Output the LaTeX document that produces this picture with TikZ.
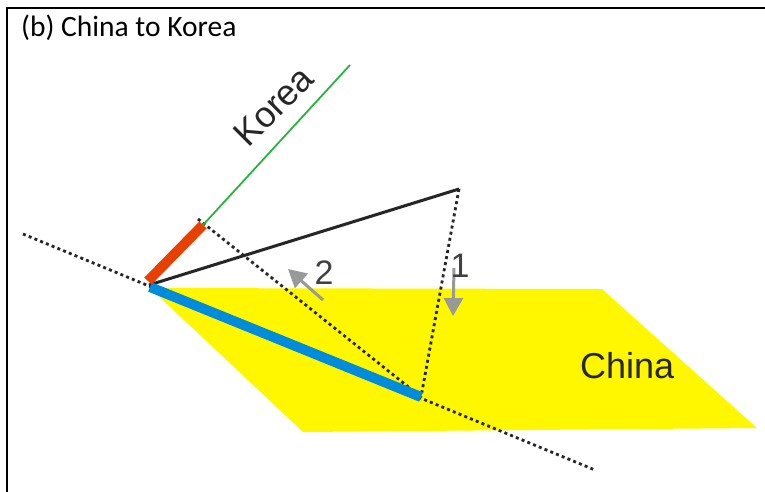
\documentclass[tikz,border=0pt]{standalone}
\usepackage{fontspec}
\setmainfont{Liberation Sans}
\newfontfamily\titlefont{Carlito}
\usetikzlibrary{arrows.meta}

\definecolor{chinayellow}{RGB}{255,247,0}
\definecolor{koreagreen}{RGB}{40,180,60}
\definecolor{shiftblue}{RGB}{0,140,220}
\definecolor{shiftred}{RGB}{232,64,0}

\begin{document}
\begin{tikzpicture}[
    x=1pt,y=-1pt,
    every node/.style={inner sep=0pt},
    dotline/.style={draw=black!85,line width=2.8pt,dash pattern=on 3pt off 3.2pt},
    turnarrow/.style={
        -{Triangle[length=18pt,width=19pt]},
        draw=black!40,line width=3pt
    },
    bigtext/.style={font=\fontsize{36}{40}\selectfont,text=black!85},
    numtext/.style={font=\fontsize{34}{36}\selectfont,text=black!75}
]
\useasboundingbox (0,0) rectangle (765,491);
\clip (0,0) rectangle (765,491);

% points
\coordinate (origin) at (149,285);
\coordinate (apex) at (459,189);
\coordinate (redbase) at (148,281);
\coordinate (redtip) at (203,225);
\coordinate (greentip) at (350,65);
\coordinate (bluebase) at (150,287);
\coordinate (bluetip) at (421,397);
\coordinate (dotstart) at (23,234);
\coordinate (dotend) at (595,470);
\coordinate (perpstart) at (198,219);
\coordinate (onestart) at (454,268);
\coordinate (oneend) at (453,316);
\coordinate (twostart) at (323,300);
\coordinate (twoend) at (288,269);

% China plane
\fill[chinayellow] (150,288) -- (602,289) -- (757,428) -- (303,432) -- cycle;

% dotted lines
\draw[dotline] (dotstart) -- (dotend);
\draw[dotline] (perpstart) -- (bluetip);
\draw[dotline] (apex) -- (bluetip);

% rays
\draw[draw=black!85,line width=3pt] (origin) -- (apex);
\draw[koreagreen,line width=1.8pt] (redtip) -- (greentip);
\draw[shiftblue,line width=10pt] (bluebase) -- (bluetip);
\draw[shiftred,line width=10pt] (redbase) -- (redtip);

% turning arrows
\draw[turnarrow] (onestart) -- (oneend);
\draw[turnarrow] (twostart) -- (twoend);

% texts
\node[numtext] (one) at (460,266) {1};
\node[numtext] (two) at (324,273) {2};
\node[bigtext,anchor=base west] (china) at (580,378) {China};
\node[bigtext,anchor=base west,rotate=45] (korea) at (248,149) {Korea};
\node[anchor=base west,font=\titlefont\fontsize{29.5}{32}\selectfont] (title)
  at (21,36) {(b) China to Korea};

% frame
\draw[line width=2.5pt] (7,8) rectangle (800,520);
\end{tikzpicture}
\end{document}
